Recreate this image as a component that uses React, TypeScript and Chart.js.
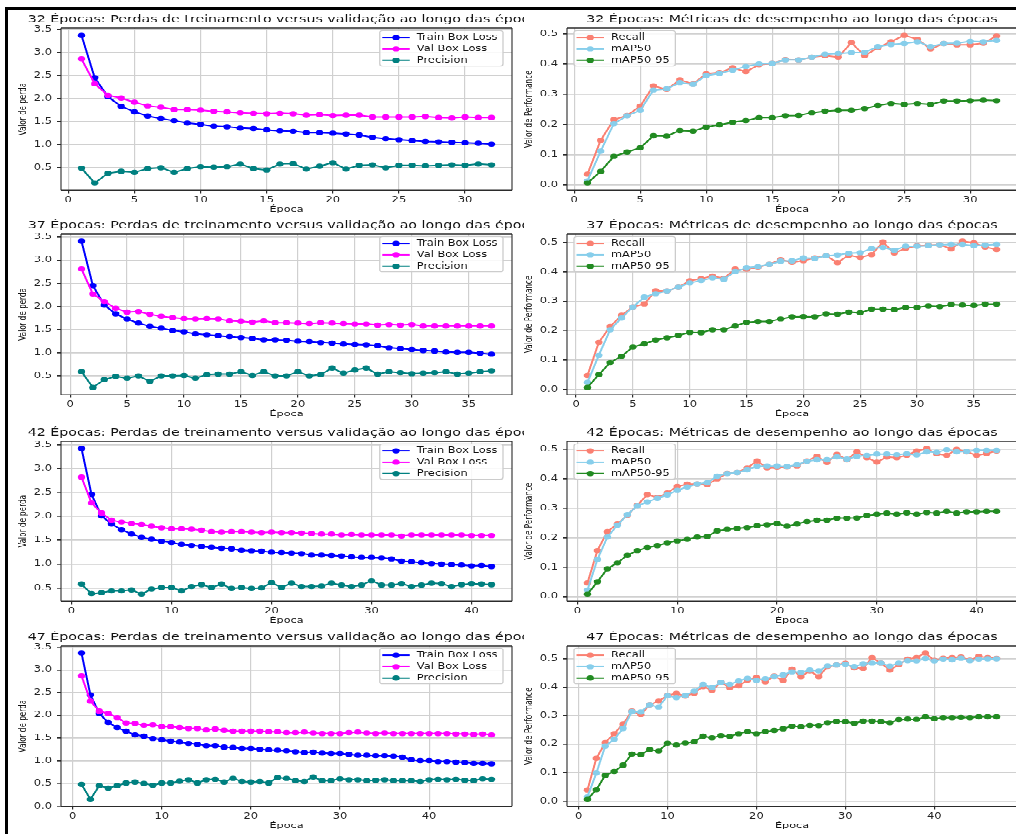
import { useEffect, useRef } from "react";
import { Chart, registerables } from "chart.js";

Chart.register(...registerables);

// ---------- data ----------
const TRAIN_32 = [3.37, 2.45, 2.04, 1.83, 1.71, 1.62, 1.57, 1.52, 1.47, 1.44, 1.40, 1.39, 1.36, 1.35, 1.32, 1.30, 1.29, 1.26, 1.26, 1.25, 1.23, 1.21, 1.16, 1.13, 1.11, 1.09, 1.07, 1.06, 1.05, 1.04, 1.03, 1.01];
const VAL_32 = [2.86, 2.32, 2.07, 2.01, 1.92, 1.84, 1.81, 1.76, 1.76, 1.75, 1.72, 1.71, 1.69, 1.68, 1.67, 1.68, 1.67, 1.64, 1.65, 1.63, 1.64, 1.64, 1.60, 1.60, 1.60, 1.60, 1.61, 1.59, 1.58, 1.60, 1.59, 1.59];
const PREC_32 = [0.49, 0.17, 0.38, 0.42, 0.40, 0.48, 0.50, 0.40, 0.48, 0.52, 0.51, 0.52, 0.58, 0.48, 0.45, 0.58, 0.59, 0.47, 0.53, 0.61, 0.47, 0.55, 0.56, 0.50, 0.55, 0.55, 0.54, 0.55, 0.56, 0.55, 0.58, 0.56];
const RECALL_32 = [0.035, 0.147, 0.215, 0.229, 0.26, 0.327, 0.315, 0.347, 0.333, 0.367, 0.371, 0.387, 0.374, 0.397, 0.401, 0.414, 0.413, 0.422, 0.427, 0.422, 0.47, 0.427, 0.453, 0.473, 0.494, 0.481, 0.449, 0.467, 0.463, 0.463, 0.468, 0.492];
const MAP50_32 = [0.013, 0.111, 0.202, 0.228, 0.246, 0.313, 0.317, 0.338, 0.332, 0.361, 0.368, 0.379, 0.391, 0.4, 0.401, 0.413, 0.413, 0.422, 0.432, 0.434, 0.437, 0.438, 0.457, 0.464, 0.467, 0.473, 0.457, 0.467, 0.468, 0.474, 0.473, 0.477];
const MAP5095_32 = [0.006, 0.044, 0.094, 0.108, 0.122, 0.162, 0.161, 0.179, 0.177, 0.191, 0.198, 0.207, 0.212, 0.222, 0.222, 0.228, 0.229, 0.238, 0.243, 0.246, 0.246, 0.252, 0.262, 0.269, 0.266, 0.269, 0.266, 0.277, 0.277, 0.278, 0.28, 0.278];

const TRAIN_37 = [3.41, 2.45, 2.03, 1.84, 1.73, 1.64, 1.57, 1.53, 1.48, 1.45, 1.41, 1.39, 1.37, 1.35, 1.33, 1.31, 1.28, 1.28, 1.27, 1.25, 1.24, 1.22, 1.21, 1.19, 1.18, 1.17, 1.15, 1.11, 1.09, 1.07, 1.05, 1.04, 1.02, 1.01, 1.01, 0.99, 0.97];
const VAL_37 = [2.81, 2.27, 2.11, 1.96, 1.88, 1.89, 1.83, 1.79, 1.76, 1.74, 1.73, 1.74, 1.73, 1.69, 1.68, 1.66, 1.69, 1.65, 1.65, 1.64, 1.63, 1.65, 1.64, 1.63, 1.62, 1.62, 1.60, 1.61, 1.60, 1.61, 1.58, 1.58, 1.58, 1.58, 1.58, 1.58, 1.58];
const PREC_37 = [0.59, 0.25, 0.42, 0.49, 0.45, 0.50, 0.38, 0.50, 0.50, 0.51, 0.45, 0.53, 0.54, 0.54, 0.59, 0.51, 0.59, 0.50, 0.50, 0.59, 0.50, 0.53, 0.67, 0.56, 0.63, 0.67, 0.54, 0.59, 0.57, 0.55, 0.56, 0.57, 0.59, 0.54, 0.56, 0.59, 0.61];
const RECALL_37 = [0.047, 0.16, 0.214, 0.252, 0.281, 0.291, 0.336, 0.335, 0.348, 0.37, 0.377, 0.386, 0.378, 0.41, 0.409, 0.416, 0.426, 0.442, 0.433, 0.439, 0.448, 0.455, 0.432, 0.457, 0.45, 0.459, 0.502, 0.465, 0.481, 0.489, 0.491, 0.493, 0.479, 0.505, 0.499, 0.485, 0.477];
const MAP50_37 = [0.023, 0.116, 0.203, 0.243, 0.281, 0.314, 0.326, 0.335, 0.348, 0.363, 0.371, 0.38, 0.375, 0.401, 0.415, 0.418, 0.426, 0.437, 0.438, 0.448, 0.446, 0.455, 0.458, 0.464, 0.466, 0.48, 0.484, 0.474, 0.488, 0.488, 0.49, 0.493, 0.494, 0.494, 0.49, 0.492, 0.494];
const MAP5095_37 = [0.006, 0.05, 0.091, 0.113, 0.144, 0.155, 0.168, 0.176, 0.184, 0.194, 0.193, 0.203, 0.203, 0.216, 0.228, 0.231, 0.231, 0.24, 0.247, 0.248, 0.247, 0.257, 0.256, 0.263, 0.261, 0.273, 0.273, 0.271, 0.279, 0.279, 0.284, 0.282, 0.289, 0.287, 0.286, 0.29, 0.29];

const TRAIN_42 = [3.42, 2.46, 2.01, 1.84, 1.72, 1.63, 1.56, 1.52, 1.48, 1.45, 1.41, 1.39, 1.37, 1.35, 1.33, 1.32, 1.29, 1.28, 1.27, 1.25, 1.24, 1.23, 1.22, 1.19, 1.19, 1.18, 1.17, 1.15, 1.14, 1.14, 1.13, 1.11, 1.06, 1.05, 1.03, 1.01, 1.00, 0.99, 0.98, 0.96, 0.97, 0.95];
const VAL_42 = [2.82, 2.28, 2.07, 1.92, 1.88, 1.85, 1.83, 1.79, 1.76, 1.74, 1.74, 1.73, 1.71, 1.68, 1.67, 1.68, 1.68, 1.67, 1.66, 1.67, 1.66, 1.66, 1.65, 1.64, 1.63, 1.63, 1.61, 1.62, 1.61, 1.61, 1.61, 1.61, 1.59, 1.61, 1.61, 1.61, 1.61, 1.61, 1.61, 1.60, 1.60, 1.60];
const PREC_42 = [0.58, 0.38, 0.40, 0.44, 0.44, 0.46, 0.37, 0.48, 0.51, 0.51, 0.44, 0.53, 0.57, 0.51, 0.58, 0.49, 0.51, 0.49, 0.50, 0.61, 0.51, 0.60, 0.53, 0.53, 0.54, 0.60, 0.56, 0.53, 0.56, 0.65, 0.56, 0.56, 0.59, 0.53, 0.56, 0.60, 0.59, 0.53, 0.57, 0.59, 0.58, 0.57];
const RECALL_42 = [0.046, 0.156, 0.22, 0.246, 0.276, 0.31, 0.346, 0.336, 0.351, 0.374, 0.381, 0.382, 0.38, 0.399, 0.418, 0.42, 0.436, 0.46, 0.436, 0.438, 0.439, 0.443, 0.46, 0.476, 0.455, 0.482, 0.464, 0.491, 0.471, 0.456, 0.473, 0.471, 0.479, 0.494, 0.502, 0.484, 0.479, 0.499, 0.491, 0.479, 0.485, 0.494];
const MAP50_42 = [0.022, 0.126, 0.202, 0.242, 0.278, 0.307, 0.321, 0.333, 0.345, 0.36, 0.372, 0.382, 0.386, 0.408, 0.417, 0.42, 0.43, 0.442, 0.443, 0.443, 0.441, 0.447, 0.459, 0.464, 0.464, 0.474, 0.466, 0.475, 0.479, 0.483, 0.483, 0.481, 0.484, 0.48, 0.491, 0.489, 0.498, 0.491, 0.492, 0.496, 0.496, 0.496];
const MAP5095_42 = [0.008, 0.05, 0.094, 0.114, 0.14, 0.156, 0.166, 0.173, 0.182, 0.189, 0.194, 0.202, 0.204, 0.223, 0.228, 0.231, 0.234, 0.24, 0.243, 0.248, 0.238, 0.246, 0.254, 0.259, 0.259, 0.266, 0.266, 0.267, 0.275, 0.279, 0.283, 0.279, 0.284, 0.279, 0.285, 0.283, 0.289, 0.283, 0.287, 0.287, 0.289, 0.289];

const TRAIN_47 = [3.37, 2.45, 2.04, 1.84, 1.73, 1.65, 1.57, 1.54, 1.49, 1.46, 1.43, 1.41, 1.38, 1.36, 1.33, 1.33, 1.30, 1.29, 1.27, 1.27, 1.25, 1.24, 1.23, 1.22, 1.20, 1.18, 1.19, 1.17, 1.16, 1.16, 1.14, 1.12, 1.12, 1.11, 1.11, 1.10, 1.08, 1.02, 1.00, 1.00, 0.98, 0.98, 0.97, 0.96, 0.94, 0.94, 0.93];
const VAL_47 = [2.87, 2.31, 2.09, 2.04, 1.95, 1.83, 1.82, 1.78, 1.79, 1.75, 1.75, 1.73, 1.71, 1.71, 1.68, 1.70, 1.67, 1.65, 1.65, 1.65, 1.65, 1.64, 1.64, 1.62, 1.62, 1.63, 1.61, 1.60, 1.60, 1.60, 1.62, 1.63, 1.61, 1.60, 1.61, 1.60, 1.60, 1.60, 1.60, 1.60, 1.60, 1.60, 1.59, 1.59, 1.58, 1.59, 1.57];
const PREC_47 = [0.48, 0.15, 0.45, 0.40, 0.45, 0.51, 0.53, 0.50, 0.46, 0.51, 0.51, 0.55, 0.58, 0.51, 0.58, 0.59, 0.53, 0.61, 0.54, 0.53, 0.54, 0.51, 0.63, 0.61, 0.56, 0.54, 0.64, 0.56, 0.56, 0.60, 0.58, 0.58, 0.56, 0.57, 0.58, 0.56, 0.56, 0.56, 0.54, 0.58, 0.59, 0.58, 0.59, 0.57, 0.56, 0.60, 0.59];
const RECALL_47 = [0.039, 0.15, 0.205, 0.237, 0.27, 0.316, 0.304, 0.338, 0.351, 0.371, 0.378, 0.369, 0.379, 0.402, 0.389, 0.417, 0.398, 0.405, 0.425, 0.434, 0.419, 0.439, 0.424, 0.463, 0.437, 0.457, 0.437, 0.473, 0.478, 0.484, 0.468, 0.466, 0.504, 0.485, 0.46, 0.479, 0.499, 0.504, 0.52, 0.494, 0.502, 0.504, 0.506, 0.495, 0.508, 0.504, 0.501];
const MAP50_47 = [0.015, 0.098, 0.193, 0.217, 0.255, 0.314, 0.313, 0.338, 0.33, 0.37, 0.364, 0.371, 0.386, 0.41, 0.398, 0.417, 0.41, 0.422, 0.431, 0.424, 0.43, 0.438, 0.443, 0.454, 0.452, 0.46, 0.457, 0.475, 0.478, 0.481, 0.473, 0.482, 0.485, 0.485, 0.474, 0.485, 0.493, 0.492, 0.501, 0.492, 0.499, 0.496, 0.502, 0.493, 0.499, 0.5, 0.5];
const MAP5095_47 = [0.006, 0.04, 0.09, 0.104, 0.126, 0.165, 0.163, 0.181, 0.176, 0.203, 0.197, 0.204, 0.208, 0.228, 0.222, 0.23, 0.227, 0.237, 0.244, 0.237, 0.244, 0.248, 0.254, 0.263, 0.261, 0.266, 0.265, 0.275, 0.28, 0.279, 0.273, 0.281, 0.281, 0.279, 0.275, 0.286, 0.288, 0.287, 0.296, 0.289, 0.293, 0.293, 0.294, 0.293, 0.296, 0.296, 0.296];

const LOSS_Y_TICKS = [0, 0.5, 1, 1.5, 2, 2.5, 3, 3.5];
const PERF_Y_TICKS = [0, 0.1, 0.2, 0.3, 0.4, 0.5];
const X_TICKS_5 = [0, 5, 10, 15, 20, 25, 30, 35, 40, 45];
const X_TICKS_10 = [0, 10, 20, 30, 40];

const LOSS_LABELS = ["Train Box Loss", "Val Box Loss", "Precision"];
const PERF_LABELS = ["Recall", "mAP50", "mAP50-95"];
const LOSS_COLORS = ["#0000ff", "#ff00ff", "#008080"];
const PERF_COLORS = ["#fa8072", "#87ceeb", "#228b22"];

const LOSS_TITLE = "Épocas: Perdas de treinamento versus validação ao longo das épocas";
const PERF_TITLE = "Épocas: Métricas de desempenho ao longo das épocas";
const X_LABEL = "Época";
const LOSS_Y_LABEL = "Valor de perda";
const PERF_Y_LABEL = "Valor de Performance";

const RUNS = [
  { epochs: 32, loss: [TRAIN_32, VAL_32, PREC_32], perf: [RECALL_32, MAP50_32, MAP5095_32], xTicks: X_TICKS_5 },
  { epochs: 37, loss: [TRAIN_37, VAL_37, PREC_37], perf: [RECALL_37, MAP50_37, MAP5095_37], xTicks: X_TICKS_5 },
  { epochs: 42, loss: [TRAIN_42, VAL_42, PREC_42], perf: [RECALL_42, MAP50_42, MAP5095_42], xTicks: X_TICKS_10 },
  { epochs: 47, loss: [TRAIN_47, VAL_47, PREC_47], perf: [RECALL_47, MAP50_47, MAP5095_47], xTicks: X_TICKS_10 },
];

// ---------- layout (screen px) ----------
const K = 0.72; // vertical squash of the reference figure
const FONT = '"DejaVu Sans", sans-serif';
const ROW_BOXES = [[28, 190], [234, 395], [441, 601], [646, 807]];
const LEFT_X = [61, 512];
const RIGHT_X = [567, 1017];
const Y_AXIS_W = 60;
const PAD_RIGHT = 12;
const PAD_TOP = 28;
const X_AXIS_H = 30;

const decorPlugin = {
  id: "mplDecor",
  afterDraw(chart: any, _args: any, opts: any) {
    const { ctx, chartArea: ca } = chart;
    const cx = (ca.left + ca.right) / 2;
    ctx.save();
    // spines
    ctx.strokeStyle = "#2b2b2b";
    ctx.lineWidth = 1.1;
    ctx.beginPath();
    ctx.moveTo(ca.left, ca.top); ctx.lineTo(ca.left, ca.bottom);
    ctx.moveTo(ca.right, ca.top); ctx.lineTo(ca.right, ca.bottom);
    ctx.stroke();
    ctx.lineWidth = 1.1 / K;
    ctx.beginPath();
    ctx.moveTo(ca.left, ca.top); ctx.lineTo(ca.right, ca.top);
    ctx.moveTo(ca.left, ca.bottom); ctx.lineTo(ca.right, ca.bottom);
    ctx.stroke();

    ctx.fillStyle = "#111";
    ctx.textAlign = "center";
    ctx.textBaseline = "middle";
    ctx.font = `14.2px ${FONT}`;
    ctx.fillText(opts.title, cx, ca.top - 8 / K);
    ctx.font = `11.2px ${FONT}`;
    ctx.fillText(opts.xlabel, cx, ca.bottom + 19.5 / K);
    ctx.save();
    ctx.translate(ca.left - 38, (ca.top + ca.bottom) / 2);
    ctx.rotate(-Math.PI / 2);
    ctx.font = `10px ${FONT}`;
    ctx.fillText(opts.ylabel, 0, 0);
    ctx.restore();

    // legend
    const labels: string[] = chart.data.datasets.map((d: any) => d.label);
    const colors: string[] = chart.data.datasets.map((d: any) => d.borderColor);
    ctx.font = `11.4px ${FONT}`;
    const tw = Math.max(...labels.map((l) => ctx.measureText(l).width));
    const w = 37 + tw + 5.5;
    const h = 35.5 / K;
    const x0 = opts.legendLoc === "upper right" ? ca.right - 9 - w : ca.left + 7;
    const y0 = ca.top + 2.5 / K;
    ctx.beginPath();
    if ((ctx as any).roundRect) (ctx as any).roundRect(x0, y0, w, h, 3);
    else ctx.rect(x0, y0, w, h);
    ctx.fillStyle = "rgba(255,255,255,0.85)";
    ctx.fill();
    ctx.strokeStyle = "#cccccc";
    ctx.lineWidth = 1.3;
    ctx.stroke();
    labels.forEach((lab, i) => {
      const cy = y0 + (7 + 11.4 * i) / K;
      ctx.strokeStyle = colors[i];
      ctx.lineWidth = 2;
      ctx.beginPath();
      ctx.moveTo(x0 + 2.5, cy);
      ctx.lineTo(x0 + 30, cy);
      ctx.stroke();
      ctx.fillStyle = colors[i];
      ctx.beginPath();
      ctx.arc(x0 + 16.25, cy, 3.7, 0, Math.PI * 2);
      ctx.fill();
      ctx.fillStyle = "#111";
      ctx.textAlign = "left";
      ctx.fillText(lab, x0 + 37, cy);
    });
    ctx.restore();
  },
};

type PanelProps = {
  xBox: number[];
  yBox: number[];
  series: number[][];
  labels: string[];
  colors: string[];
  xTicks: number[];
  yTicks: number[];
  title: string;
  ylabel: string;
  legendLoc: string;
};

function Panel(p: PanelProps) {
  const ref = useRef<HTMLCanvasElement | null>(null);
  const [l, r] = p.xBox;
  const [t, b] = p.yBox;
  const cw = Math.round(Y_AXIS_W + (r - l) + PAD_RIGHT);
  const ch = Math.round((PAD_TOP + (b - t) + X_AXIS_H) / K);
  const left = l - Y_AXIS_W;
  const top = (t - PAD_TOP) / K;

  useEffect(() => {
    if (!ref.current) return;
    const n = p.series[0].length;
    const xmin = 1 - 0.05 * (n - 1);
    const xmax = n + 0.05 * (n - 1);
    const all = p.series.flat();
    const lo = Math.min(...all);
    const hi = Math.max(...all);
    const ymin = lo - 0.05 * (hi - lo);
    const ymax = hi + 0.05 * (hi - lo);
    const tickFont = { family: FONT, size: 11.5 };
    const chart = new Chart(ref.current, {
      type: "line",
      data: {
        datasets: p.series.map((vals, i) => ({
          label: p.labels[i],
          data: vals.map((v, j) => ({ x: j + 1, y: v })),
          borderColor: p.colors[i],
          backgroundColor: p.colors[i],
          pointBackgroundColor: p.colors[i],
          pointBorderColor: p.colors[i],
          pointBorderWidth: 0,
          pointRadius: 3.7,
          borderWidth: 2,
          tension: 0,
          fill: false,
          order: 3 - i,
        })),
      },
      options: {
        responsive: false,
        animation: false,
        devicePixelRatio: 1,
        events: [],
        layout: { padding: { top: PAD_TOP / K, left: 0, right: PAD_RIGHT, bottom: 0 } },
        plugins: {
          legend: { display: false },
          tooltip: { enabled: false },
          title: { display: false },
          mplDecor: { title: p.title, xlabel: X_LABEL, ylabel: p.ylabel, legendLoc: p.legendLoc },
        } as any,
        scales: {
          x: {
            type: "linear",
            min: xmin,
            max: xmax,
            afterBuildTicks: (axis: any) => {
              axis.ticks = p.xTicks.filter((v) => v >= xmin && v <= xmax).map((v) => ({ value: v }));
            },
            afterFit: (s: any) => { s.height = X_AXIS_H / K; },
            ticks: {
              autoSkip: false, maxRotation: 0, minRotation: 0, padding: 3,
              font: tickFont, color: "#222",
              callback: (v: any) => String(v),
            },
            grid: { color: "#d0d0d0", lineWidth: 1.2, tickColor: "#2b2b2b", tickLength: 3 / K, drawTicks: true },
            border: { display: false },
          },
          y: {
            type: "linear",
            min: ymin,
            max: ymax,
            afterBuildTicks: (axis: any) => {
              axis.ticks = p.yTicks.filter((v) => v >= ymin && v <= ymax).map((v) => ({ value: v }));
            },
            afterFit: (s: any) => { s.width = Y_AXIS_W; },
            ticks: {
              autoSkip: false, padding: 5,
              font: tickFont, color: "#222",
              callback: (v: any) => Number(v).toFixed(1),
            },
            grid: { color: "#d0d0d0", lineWidth: 1.2 / K, tickColor: "#2b2b2b", tickLength: 4, drawTicks: true },
            border: { display: false },
          },
        },
      } as any,
      plugins: [decorPlugin as any],
    });
    return () => chart.destroy();
  }, []);

  return (
    <canvas
      ref={ref}
      width={cw}
      height={ch}
      style={{ position: "absolute", left, top, width: cw, height: ch }}
    />
  );
}

export default function App() {
  const panels: (PanelProps & { key: string })[] = [];
  RUNS.forEach((run, i) => {
    panels.push({
      key: `loss-${run.epochs}`,
      xBox: LEFT_X,
      yBox: ROW_BOXES[i],
      series: run.loss,
      labels: LOSS_LABELS,
      colors: LOSS_COLORS,
      xTicks: run.xTicks,
      yTicks: LOSS_Y_TICKS,
      title: `${run.epochs} ${LOSS_TITLE}`,
      ylabel: LOSS_Y_LABEL,
      legendLoc: "upper right",
    });
    panels.push({
      key: `perf-${run.epochs}`,
      xBox: RIGHT_X,
      yBox: ROW_BOXES[i],
      series: run.perf,
      labels: PERF_LABELS,
      colors: PERF_COLORS,
      xTicks: run.xTicks,
      yTicks: PERF_Y_TICKS,
      title: `${run.epochs} ${PERF_TITLE}`,
      ylabel: PERF_Y_LABEL,
      legendLoc: "upper left",
    });
  });

  return (
    <div style={{ position: "absolute", left: 0, top: 0, width: 1016, height: 834, overflow: "hidden", background: "#fff" }}>
      <div
        style={{
          position: "absolute", left: 0, top: 0, width: 1040, height: 834 / K,
          transform: `scaleY(${K})`, transformOrigin: "0 0",
        }}
      >
        {panels.map(({ key, ...rest }) => (
          <Panel key={key} {...rest} />
        ))}
      </div>
      <div
        style={{
          position: "absolute", left: 5, top: 7, width: 1040, height: 860,
          borderTop: "3px solid #000", borderLeft: "3px solid #000", pointerEvents: "none",
        }}
      />
    </div>
  );
}
